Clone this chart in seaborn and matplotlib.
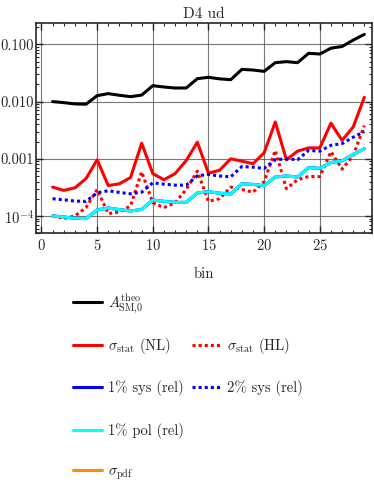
import numpy as np
import matplotlib
matplotlib.use("Agg")
import matplotlib.pyplot as plt
from matplotlib.lines import Line2D
from matplotlib.ticker import FixedLocator, FixedFormatter, LogLocator, MultipleLocator, NullFormatter
import seaborn as sns

# values
bins = list(range(1, 30))
a_theo = [0.0100, 0.0096, 0.0091, 0.0090, 0.0127, 0.0138, 0.0129, 0.0122, 0.0130, 0.0190,
          0.0180, 0.0173, 0.0173, 0.0252, 0.0266, 0.0250, 0.0242, 0.0366, 0.0357, 0.0338,
          0.0480, 0.0500, 0.0480, 0.0700, 0.0680, 0.0860, 0.0920, 0.1190, 0.1500]
stat_nl = [3.2e-4, 2.8e-4, 3.1e-4, 4.5e-4, 9.6e-4, 3.4e-4, 3.65e-4, 4.7e-4, 1.87e-3, 5.5e-4,
           4.3e-4, 5.5e-4, 9.3e-4, 1.95e-3, 5.6e-4, 6.3e-4, 1.0e-3, 9.1e-4, 8.2e-4, 1.27e-3,
           4.4e-3, 9.6e-4, 1.36e-3, 1.55e-3, 1.55e-3, 4.2e-3, 2.1e-3, 3.6e-3, 1.19e-2]
stat_hl = [1.02e-4, 9.0e-5, 1.0e-4, 1.4e-4, 2.9e-4, 1.1e-4, 1.17e-4, 1.5e-4, 5.9e-4, 1.7e-4,
           1.4e-4, 1.7e-4, 2.9e-4, 6.1e-4, 1.8e-4, 2.0e-4, 3.2e-4, 2.9e-4, 2.6e-4, 4.0e-4,
           1.4e-3, 3.0e-4, 4.3e-4, 4.9e-4, 4.9e-4, 1.33e-3, 6.6e-4, 1.14e-3, 3.8e-3]
sys1 = [1.00e-4, 9.6e-5, 9.1e-5, 9.0e-5, 1.27e-4, 1.38e-4, 1.29e-4, 1.22e-4, 1.30e-4, 1.90e-4,
        1.80e-4, 1.73e-4, 1.73e-4, 2.52e-4, 2.66e-4, 2.50e-4, 2.42e-4, 3.66e-4, 3.57e-4, 3.38e-4,
        4.80e-4, 5.00e-4, 4.80e-4, 7.00e-4, 6.80e-4, 8.60e-4, 9.20e-4, 1.19e-3, 1.50e-3]
sys2 = [2.0e-4, 1.92e-4, 1.82e-4, 1.80e-4, 2.54e-4, 2.76e-4, 2.58e-4, 2.44e-4, 2.60e-4, 3.80e-4,
        3.60e-4, 3.46e-4, 3.46e-4, 5.04e-4, 5.32e-4, 5.00e-4, 4.84e-4, 7.32e-4, 7.14e-4, 6.76e-4,
        9.60e-4, 1.00e-3, 9.60e-4, 1.40e-3, 1.36e-3, 1.72e-3, 1.84e-3, 2.38e-3, 3.00e-3]
pol1 = [1.00e-4, 9.6e-5, 9.1e-5, 9.0e-5, 1.27e-4, 1.38e-4, 1.29e-4, 1.22e-4, 1.30e-4, 1.90e-4,
        1.80e-4, 1.73e-4, 1.73e-4, 2.52e-4, 2.66e-4, 2.50e-4, 2.42e-4, 3.66e-4, 3.57e-4, 3.38e-4,
        4.80e-4, 5.00e-4, 4.80e-4, 7.00e-4, 6.80e-4, 8.60e-4, 9.20e-4, 1.19e-3, 1.50e-3]
pdf = []  # no visible points in the plotted range

ytick_vals = [1e-4, 1e-3, 1e-2, 1e-1]
ytick_labels = [r"$10^{-4}$", "0.001", "0.010", "0.100"]

sns.set_style("ticks")
plt.rcParams.update({
    "font.family": "serif",
    "font.serif": ["cmr10", "DejaVu Serif"],
    "mathtext.fontset": "cm",
    "axes.formatter.use_mathtext": True,
    "font.size": 10.5,
})

fig = plt.figure(figsize=(3.74, 4.94), dpi=100)
ax = fig.add_axes([0.096, 0.528, 0.899, 0.425])

lw = 2.2
dot = (0, (1, 1))
sns.lineplot(x=bins, y=a_theo, ax=ax, color="black", lw=lw)
sns.lineplot(x=bins, y=stat_nl, ax=ax, color="red", lw=lw)
sns.lineplot(x=bins, y=stat_hl, ax=ax, color="red", lw=lw, linestyle=dot)
sns.lineplot(x=bins, y=sys1, ax=ax, color="blue", lw=lw)
sns.lineplot(x=bins, y=sys2, ax=ax, color="blue", lw=lw, linestyle=dot)
sns.lineplot(x=bins, y=pol1, ax=ax, color="cyan", lw=lw)
if pdf:
    sns.lineplot(x=bins[:len(pdf)], y=pdf, ax=ax, color="darkorange", lw=lw)

ax.set_yscale("log")
ax.set_ylim(5e-5, 0.235)
ax.set_xlim(-0.5, 29.7)
ax.yaxis.set_major_locator(FixedLocator(ytick_vals))
ax.yaxis.set_major_formatter(FixedFormatter(ytick_labels))
ax.yaxis.set_minor_locator(LogLocator(base=10, subs=np.arange(2, 10)))
ax.yaxis.set_minor_formatter(NullFormatter())
ax.xaxis.set_major_locator(MultipleLocator(5))
ax.xaxis.set_minor_locator(MultipleLocator(1))
ax.tick_params(which="both", direction="in", top=True, right=True, labelsize=10.5)
ax.tick_params(axis="y", pad=1.5)
ax.tick_params(which="major", length=5, width=1)
ax.tick_params(which="minor", length=2.5, width=0.8)
ax.grid(True, which="major", color="#555555", lw=0.8, alpha=0.8)
for s in ax.spines.values():
    s.set_linewidth(1.2)

ax.set_title("D4 ud", fontsize=11, pad=4)
ax.set_xlabel("bin", fontsize=10.5, labelpad=10)
ax.set_ylabel("")

# legend: one entry per slot, laid out on a 2-column grid below the axes
entries = [
    (0, 0, "black", "-", r"$A^{\rm theo}_{\rm SM{,}0}$"),
    (1, 0, "red", "-", r"$\sigma_{\rm stat}$ (NL)"),
    (1, 1, "red", dot, r"$\sigma_{\rm stat}$ (HL)"),
    (2, 0, "blue", "-", "1% sys (rel)"),
    (2, 1, "blue", dot, "2% sys (rel)"),
    (3, 0, "cyan", "-", "1% pol (rel)"),
    (4, 0, "darkorange", "-", r"$\sigma_{\rm pdf}$"),
]
row_y = [1 - 304 / 494, 1 - 346 / 494, 1 - 388 / 494, 1 - 431 / 494, 1 - 473 / 494]
col_x = [73 / 374, 192 / 374]
for row, col, color, ls, label in entries:
    h = Line2D([], [], color=color, lw=lw, linestyle=ls)
    leg = fig.legend([h], [label], loc="center left", bbox_to_anchor=(col_x[col], row_y[row]),
                     frameon=False, fontsize=10.5, handlelength=2.0, handletextpad=0.4,
                     borderpad=0, borderaxespad=0)

fig.savefig("out.png", dpi=100)
